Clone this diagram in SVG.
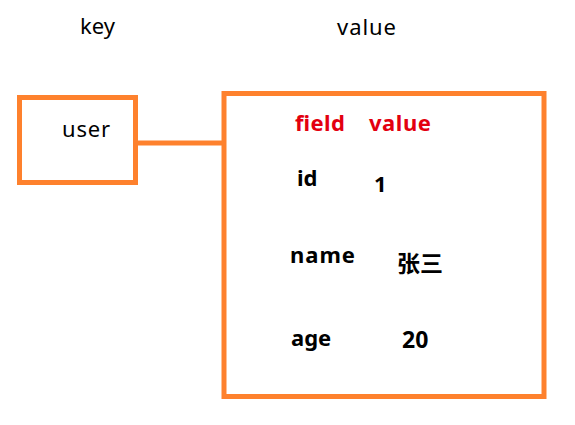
<svg xmlns="http://www.w3.org/2000/svg" width="575" height="425" viewBox="0 0 575 425">
<style>
.box{fill:#fff;stroke:#fe812d;stroke-width:5}
.con{stroke:#fe812d;stroke-width:5;fill:none}
text{font-family:"Noto Sans","Noto Sans CJK SC",sans-serif;fill:#000}
.h{font-size:22px}
.b{font-size:22px;font-weight:bold}
.c{font-size:23px}
.r{fill:#e3000f}
</style>
<rect width="575" height="425" fill="#fff"/>
<g id="labels">
<text class="h" x="80" y="34" textLength="35">key</text>
<text class="h" x="337" y="35" textLength="59">value</text>
</g>
<g id="connectors">
<line class="con" x1="136" y1="143" x2="224" y2="143"/>
</g>
<g id="key-user">
<rect class="box" x="19.5" y="97.5" width="116" height="85"/>
<text class="h" x="62" y="137" textLength="48">user</text>
</g>
<g id="value-hash">
<rect class="box" x="224" y="93.5" width="320" height="303"/>
<text class="b r" x="295" y="131" textLength="50">field</text>
<text class="b r" x="369" y="131" textLength="62">value</text>
<text class="b" x="297" y="186">id</text>
<text class="b" x="374" y="192">1</text>
<text class="b" x="290" y="263" textLength="65">name</text>
<text class="b c" x="397" y="272">张三</text>
<text class="b" x="291" y="346">age</text>
<text class="b" x="402" y="348" style="font-size:23px">20</text>
</g>
</svg>
